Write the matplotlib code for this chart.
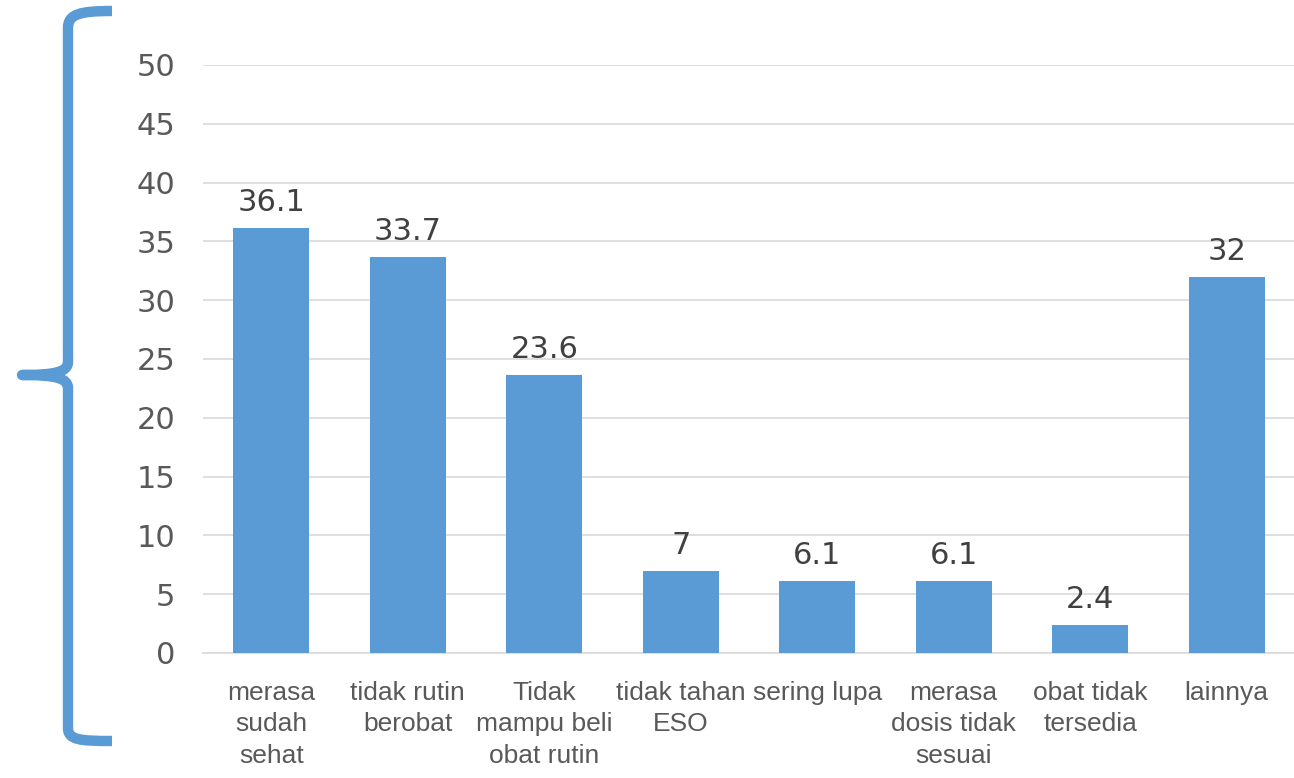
import matplotlib.pyplot as plt
from matplotlib.path import Path
from matplotlib.patches import PathPatch
import numpy as np

categories = ['merasa\nsudah\nsehat', 'tidak rutin\nberobat', 'Tidak\nmampu beli\nobat rutin',
              'tidak tahan\nESO', 'sering lupa', 'merasa\ndosis tidak\nsesuai',
              'obat tidak\ntersedia', 'lainnya']
values = [36.1, 33.7, 23.6, 7, 6.1, 6.1, 2.4, 32]
value_labels = ['36.1', '33.7', '23.6', '7', '6.1', '6.1', '2.4', '32']

W, H = 1294, 778
blue = '#5B9BD5'

fig = plt.figure(figsize=(W / 100, H / 100), dpi=100)
ax = fig.add_axes([203 / W, 1 - 653 / H, (1295 - 203) / W, (653 - 65) / H])

x = np.arange(len(values))
ax.bar(x, values, width=0.56, color=blue, zorder=3)
ax.set_xlim(-0.5, len(values) - 0.5)
ax.set_ylim(0, 50)
ax.set_yticks(range(0, 51, 5))
ax.grid(axis='y', color='#D9D9D9', linewidth=1.2, zorder=0)
for s in ['top', 'right', 'left']:
    ax.spines[s].set_visible(False)
ax.spines['bottom'].set_color('#D9D9D9')
ax.spines['bottom'].set_linewidth(1.2)

ax.tick_params(axis='y', length=0, pad=20, labelsize=22, labelcolor='#595959')
ax.set_xticks(x)
ax.set_xticklabels(categories, family=['Liberation Sans Narrow', 'Liberation Sans', 'DejaVu Sans'],
                   fontsize=19, color='#595959', linespacing=1.4)
ax.tick_params(axis='x', length=0, pad=20)

for xi, v, lab in zip(x, values, value_labels):
    ax.annotate(lab, (xi, v), xytext=(0, 8), textcoords='offset points',
                ha='center', va='bottom', fontsize=22, color='#404040')

# curly brace on the left
def px(a, b):
    return (a / W, 1 - b / H)

verts = [px(112, 11), px(80, 11), px(68, 14), px(68, 28),
         px(68, 362),
         px(68, 372), px(55, 375), px(22, 375),
         px(55, 375), px(68, 378), px(68, 388),
         px(68, 728),
         px(68, 740), px(80, 741), px(112, 741)]
codes = [Path.MOVETO, Path.CURVE4, Path.CURVE4, Path.CURVE4,
         Path.LINETO,
         Path.CURVE4, Path.CURVE4, Path.CURVE4,
         Path.CURVE4, Path.CURVE4, Path.CURVE4,
         Path.LINETO,
         Path.CURVE4, Path.CURVE4, Path.CURVE4]
brace = PathPatch(Path(verts, codes), transform=fig.transFigure, facecolor='none',
                  edgecolor=blue, linewidth=7.5, capstyle='butt', joinstyle='round')
fig.patches.append(brace)

plt.savefig('out.png', dpi=100)
